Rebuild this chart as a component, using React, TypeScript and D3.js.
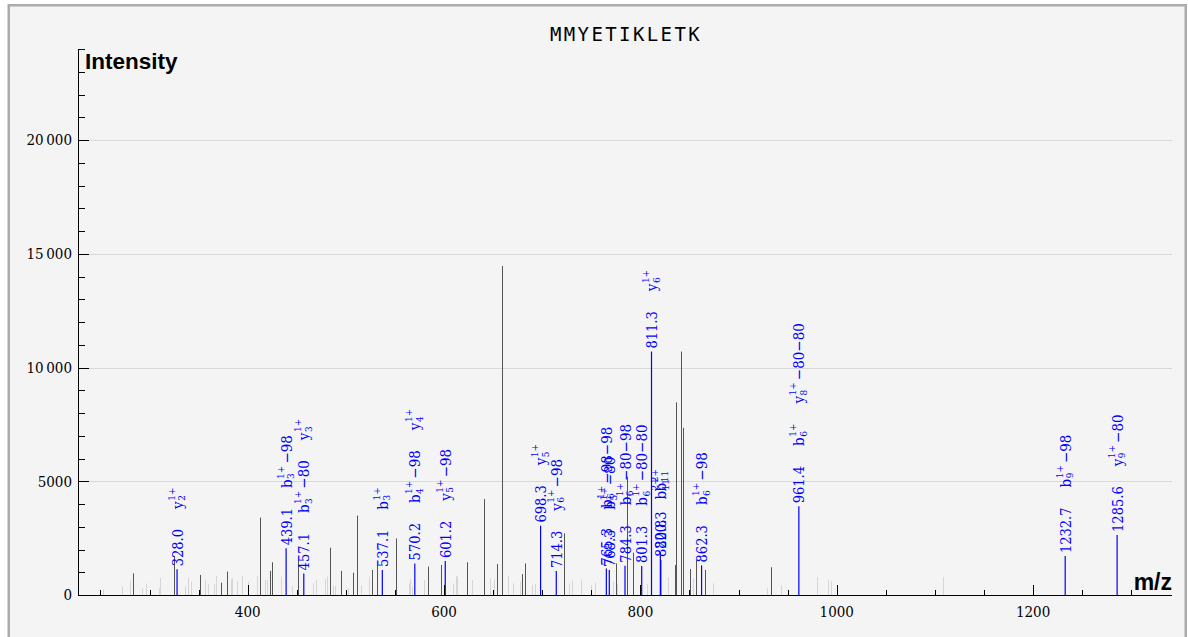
import React, { useEffect, useRef } from 'react';
import * as d3 from 'd3';

const TITLE = 'MMYETIKLETK';

// matched fragment peaks, ion labels listed bottom -> top
const matchedMz = [328.0, 439.1, 457.1, 537.1, 570.2, 601.2, 698.3, 714.3, 765.3, 768.3, 784.3, 801.3, 811.3, 820.3, 820.8, 862.3, 961.4, 1232.7, 1285.6];
const matchedIntensity = [1130, 2050, 950, 1100, 1390, 1490, 3050, 1050, 1170, 1100, 1290, 1270, 10700, 1900, 1540, 1300, 3900, 1710, 2640];
const matchedIons: string[][] = [
  ['y_2^1+'],
  ['b_3^1+−98'],
  ['b_3^1+−80', 'y_3^1+'],
  ['b_3^1+'],
  ['b_4^1+−98', 'y_4^1+'],
  ['y_5^1+−98'],
  ['y_5^1+'],
  ['y_6^1+−98'],
  ['b_6^1+−98−98'],
  ['b_5^1+−80'],
  ['b_6^1+−80−98'],
  ['b_6^1+−80−80'],
  ['y_6^1+'],
  ['b_11^2+'],
  ['b_11^2+'],
  ['b_6^1+−98'],
  ['b_6^1+', 'y_8^1+−80−80'],
  ['b_9^1+−98'],
  ['y_9^1+−80'],
];

// unmatched peaks
const peakMz = [282.9, 324.6, 351.1, 372.5, 379.2, 412.2, 422.4, 425.1, 451.6, 483.5, 494.7, 507.6, 511.6, 526.9, 532.0, 551.1, 584.0, 596.9, 623.1, 641.0, 654.3, 659.4, 679.4, 682.2, 722.5, 774.9, 786.1, 792.8, 835.3, 836.0, 840.9, 843.7, 850.5, 856.6, 865.8, 932.8];
const peakIntensity = [950, 1690, 880, 540, 1030, 3400, 1060, 1440, 1540, 2080, 1060, 980, 3490, 1100, 1320, 2490, 1250, 1320, 1440, 4220, 1360, 14460, 920, 1390, 2710, 1390, 5200, 1860, 1320, 8470, 10700, 7350, 1140, 1540, 1100, 1220];

// low-level noise peaks
const noiseMz = [252.9, 272.3, 280.4, 292.0, 296.1, 309.3, 310.4, 336.4, 339.2, 342.5, 356.2, 359.6, 365.4, 367.4, 382.7, 384.3, 389.4, 394.5, 400.3, 409.5, 417.9, 419.7, 433.6, 444.8, 466.2, 469.6, 478.4, 480.5, 486.6, 488.9, 502.5, 515.1, 523.9, 564.0, 565.7, 567.4, 579.9, 608.8, 611.9, 613.5, 628.2, 646.8, 650.6, 665.5, 670.6, 677.4, 689.3, 692.7, 727.6, 730.0, 739.2, 749.7, 753.5, 772.4, 776.5, 807.0, 828.4, 853.3, 873.7, 929.3, 942.9, 979.6, 991.5, 994.0, 1108.6];
const noiseIntensity = [260, 370, 630, 290, 510, 320, 760, 370, 760, 590, 660, 480, 480, 840, 690, 730, 590, 840, 590, 840, 660, 660, 810, 410, 510, 660, 690, 810, 410, 410, 290, 410, 810, 510, 690, 370, 660, 510, 840, 810, 660, 730, 690, 840, 510, 590, 440, 480, 510, 630, 690, 440, 540, 590, 480, 480, 780, 730, 510, 290, 440, 800, 650, 600, 800];

const yGrid = [5000, 10000, 15000, 20000];

const SERIF = "'DejaVu Serif Condensed', 'DejaVu Serif', serif";
const SANS = "'Liberation Sans', Arial, sans-serif";

const fmtY = (v: number) => (v >= 10000 ? d3.format(',')(v).replace(/,/g, '\u2009') : String(v));

function drawIon(g: d3.Selection<SVGGElement, unknown, null, undefined>, label: string): number {
  const m = /^([a-z])_(\d+)\^(\d\+)(.*)$/.exec(label);
  if (!m) return 0;
  const base = g.append('text').attr('x', 0).attr('y', 5.5).attr('font-size', 15).text(m[1]);
  const wb = (base.node() as SVGTextElement).getComputedTextLength();
  const sup = g.append('text').attr('x', wb + 0.5).attr('y', -2.5).attr('font-size', 10).text(m[3]);
  const sub = g.append('text').attr('x', wb + 0.5).attr('y', 8).attr('font-size', 10).text(m[2]);
  const ws = Math.max(
    (sup.node() as SVGTextElement).getComputedTextLength(),
    (sub.node() as SVGTextElement).getComputedTextLength()
  );
  let end = wb + 0.5 + ws;
  if (m[4]) {
    const suf = g.append('text').attr('x', end + 2).attr('y', 5.5).attr('font-size', 15).text(m[4]);
    end += 2 + (suf.node() as SVGTextElement).getComputedTextLength();
  }
  return end;
}

const App: React.FC = () => {
  const svgRef = useRef<SVGSVGElement>(null);

  useEffect(() => {
    if (!svgRef.current) return;
    const svg = d3.select(svgRef.current);
    svg.selectAll('*').remove();

    const x = d3.scaleLinear().domain([227.1, 1341.5]).range([78, 1172]);
    const y = d3.scaleLinear().domain([0, 24000]).range([595, 49]);
    const px = (v: number) => Math.round(x(v)) + 0.5;

    svg.append('rect').attr('width', 1188).attr('height', 637).attr('fill', '#fff');
    svg.append('rect')
      .attr('x', 8.75).attr('y', 5.25).attr('width', 1177).attr('height', 660)
      .attr('fill', '#f4f4f4').attr('stroke', '#ababab').attr('stroke-width', 2.5);

    // grid
    yGrid.forEach((v) => {
      svg.append('line')
        .attr('x1', 79).attr('x2', 1172)
        .attr('y1', Math.round(y(v)) + 0.5).attr('y2', Math.round(y(v)) + 0.5)
        .attr('stroke', '#d9d9d9').attr('stroke-width', 1);
    });

    // noise, unmatched, matched peaks
    noiseMz.forEach((mz, i) => {
      svg.append('line')
        .attr('x1', px(mz)).attr('x2', px(mz))
        .attr('y1', y(0)).attr('y2', y(noiseIntensity[i]))
        .attr('stroke', '#d6d6d6').attr('stroke-width', 1);
    });
    peakMz.forEach((mz, i) => {
      svg.append('line')
        .attr('x1', px(mz)).attr('x2', px(mz))
        .attr('y1', y(0)).attr('y2', y(peakIntensity[i]))
        .attr('stroke', '#555').attr('stroke-width', 1);
    });
    matchedMz.forEach((mz, i) => {
      svg.append('line')
        .attr('x1', x(mz)).attr('x2', x(mz))
        .attr('y1', y(0)).attr('y2', y(matchedIntensity[i]))
        .attr('stroke', '#0000ff').attr('stroke-width', 1.2);
    });

    // axes
    const axis = svg.append('g').attr('stroke', '#000').attr('stroke-width', 1);
    axis.append('line').attr('x1', 78.5).attr('x2', 78.5).attr('y1', y(24000)).attr('y2', 595.5);
    axis.append('line').attr('x1', 78).attr('x2', 1172).attr('y1', 595.5).attr('y2', 595.5);

    d3.range(0, 24001, 1000).forEach((v) => {
      const len = v % 5000 === 0 ? 11 : 7;
      const yy = Math.round(y(v)) + 0.5;
      axis.append('line').attr('x1', 78).attr('x2', 78 + len).attr('y1', yy).attr('y2', yy);
      if (v % 5000 === 0) {
        svg.append('text')
          .attr('x', 72).attr('y', y(v)).attr('dy', '0.36em')
          .attr('text-anchor', 'end').attr('font-family', SERIF).attr('font-size', 15)
          .attr('fill', '#000').text(fmtY(v));
      }
    });

    d3.range(250, 1341, 50).forEach((v) => {
      const len = v % 200 === 0 ? 10 : 5;
      axis.append('line').attr('x1', px(v)).attr('x2', px(v)).attr('y1', 595).attr('y2', 595 - len);
      if (v % 200 === 0) {
        svg.append('text')
          .attr('x', x(v)).attr('y', 617)
          .attr('text-anchor', 'middle').attr('font-family', SERIF).attr('font-size', 15)
          .attr('fill', '#000').text(String(v));
      }
    });

    // titles
    svg.append('text')
      .attr('x', 626).attr('y', 41).attr('text-anchor', 'middle')
      .attr('font-family', "'DejaVu Sans Mono', 'Liberation Mono', monospace")
      .attr('font-size', 19).attr('letter-spacing', 2.4).attr('fill', '#000').text(TITLE);
    svg.append('text')
      .attr('x', 85).attr('y', 69).attr('font-family', SANS).attr('font-weight', 'bold')
      .attr('font-size', 22.5).attr('fill', '#000').text('Intensity');
    svg.append('text')
      .attr('x', 1172).attr('y', 590).attr('text-anchor', 'end').attr('font-family', SANS)
      .attr('font-weight', 'bold').attr('font-size', 23).attr('fill', '#000').text('m/z');

    // peak annotations
    const labels = svg.append('g').attr('font-family', SERIF).attr('fill', '#0000ff');
    matchedMz.forEach((mz, i) => {
      const lx = x(mz);
      const top = y(matchedIntensity[i]);
      const g = labels.append('g').attr('transform', `translate(${lx},${top - 3}) rotate(-90)`);
      const t = g.append('text').attr('x', 0).attr('y', 5.5).attr('font-size', 14.5).text(mz.toFixed(1));
      let start = top - 3 - (t.node() as SVGTextElement).getComputedTextLength() - 20;
      matchedIons[i].forEach((ion) => {
        const gi = labels.append('g').attr('transform', `translate(${lx},${start}) rotate(-90)`);
        const len = drawIon(gi, ion);
        start -= len + 20;
      });
    });
  }, []);

  return (
    <svg
      ref={svgRef}
      width={1188}
      height={637}
      style={{ position: 'absolute', left: 0, top: 0, display: 'block' }}
    />
  );
};

export default App;
